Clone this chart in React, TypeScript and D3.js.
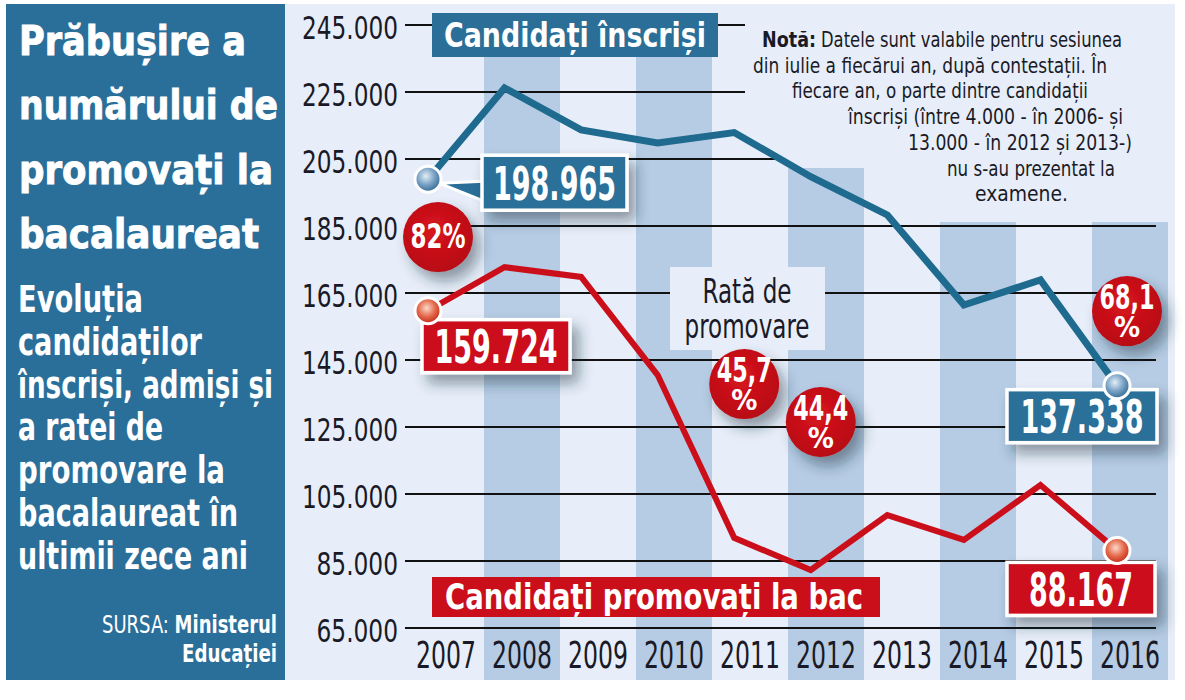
import { formatLocale, line, scaleBand, scaleLinear, scalePoint } from 'd3'

const years = ['2007', '2008', '2009', '2010', '2011', '2012', '2013', '2014', '2015', '2016']
const enrolled = [198965, 226200, 213700, 209800, 212900, 199700, 188300, 161400, 168900, 137338]
const promoted = [159724, 172700, 169800, 140500, 91900, 82300, 98700, 91300, 107700, 88167]
const yTicks = [65000, 85000, 105000, 125000, 145000, 165000, 185000, 205000, 225000, 245000]

// pass-rate bubbles: year they sit next to, label lines, vertical anchor in data units
const rateYears = ['2007', '2011', '2012', '2016']
const rateLabels = [['82%'], ['45,7', '%'], ['44,4', '%'], ['68,1', '%']]
const rateAnchors = [181700, 137800, 126500, 159600]

const titleLines = ['Prăbușire a', 'numărului de', 'promovați la', 'bacalaureat']
const subtitleLines = [
  'Evoluția',
  'candidaților',
  'înscriși, admiși și',
  'a ratei de',
  'promovare la',
  'bacalaureat în',
  'ultimii zece ani',
]
const noteLines = [
  'Datele sunt valabile pentru sesiunea',
  'din iulie a fiecărui an, după contestații.  În',
  'fiecare an, o parte dintre candidații',
  'înscriși (între 4.000 - în 2006-  și',
  '13.000 - în 2012 și 2013-)',
  'nu s-au prezentat la',
  'examene.',
]

const FONT = "'Liberation Sans Narrow', 'DejaVu Sans Condensed', 'Roboto', Arial, sans-serif"
const LIGHT = '#e7eef9'
const BAND = '#b6cce4'
const PANEL = '#2a6f9a'
const BLUE = '#1f6a8f'
const BOX_BLUE = '#2b6f98'
const RED = '#cb0f1a'

const ro = formatLocale({ decimal: ',', thousands: '.', grouping: [3], currency: ['', ''] })
const fmt = ro.format(',d')

const yScale = scaleLinear().domain([65000, 245000]).range([628, 25])
const xBand = scaleBand<string>().domain(years).range([408, 1168])
const xPoint = scalePoint<string>().domain(years).range([428, 1117])

const makeLine = line<number>()
  .x((_, i) => xPoint(years[i]) ?? 0)
  .y(d => yScale(d))

function tickWidth(label: string) {
  const digits = label.replace(/\D/g, '').length
  return digits * 14.5 + 9
}

export default function App() {
  const callouts = [
    { values: enrolled, index: 0, dx: 54, dy: -24, w: 145, h: 55, fill: BOX_BLUE, textW: 123, pointer: true },
    { values: promoted, index: 0, dx: -6, dy: 9, w: 148, h: 53, fill: RED, textW: 123, pointer: false },
    { values: enrolled, index: 9, dx: -110, dy: 4, w: 150, h: 53, fill: BOX_BLUE, textW: 123, pointer: false },
    { values: promoted, index: 9, dx: -110, dy: 12, w: 148, h: 53, fill: RED, textW: 104, pointer: false },
  ]

  const noteStarts = [821, 753, 792, 848, 908, 947, 975]
  const noteWidths = [301, 354, 296, 275, 224, 168, 93]

  return (
    <svg
      width={1185}
      height={700}
      style={{ position: 'absolute', left: 0, top: 0, display: 'block', background: '#fff' }}
      fontFamily={FONT}
    >
      <defs>
        <filter id="shadow" x="-30%" y="-30%" width="170%" height="180%">
          <feDropShadow dx="7" dy="9" stdDeviation="7" floodColor="#1d2b3c" floodOpacity="0.45" />
        </filter>
        <radialGradient id="bluePt" cx="42%" cy="38%" r="60%">
          <stop offset="0%" stopColor="#e4eef6" />
          <stop offset="55%" stopColor="#7aa3c6" />
          <stop offset="100%" stopColor="#3a6f98" />
        </radialGradient>
        <radialGradient id="redPt" cx="45%" cy="40%" r="60%">
          <stop offset="0%" stopColor="#fbd8c8" />
          <stop offset="55%" stopColor="#e46a4c" />
          <stop offset="100%" stopColor="#c42a1a" />
        </radialGradient>
        <radialGradient id="rateBubble" cx="45%" cy="40%" r="60%">
          <stop offset="0%" stopColor="#d8141d" />
          <stop offset="100%" stopColor="#b80c14" />
        </radialGradient>
      </defs>

      <rect x={6} y={4} width={1169} height={676} fill={LIGHT} />

      {years.map((year, i) =>
        i % 2 === 1 ? (
          <rect
            key={year}
            x={xBand(year)}
            y={14}
            width={xBand.bandwidth()}
            height={666}
            fill={BAND}
          />
        ) : null
      )}

      {yTicks.map(t => (
        <g key={t}>
          <line x1={405} x2={1156} y1={yScale(t)} y2={yScale(t)} stroke="#111" strokeWidth={2} />
          <text
            x={398}
            y={yScale(t) + 14}
            textAnchor="end"
            fontSize={32}
            fill="#1a1a26"
            textLength={tickWidth(fmt(t))}
            lengthAdjust="spacingAndGlyphs"
          >
            {fmt(t)}
          </text>
        </g>
      ))}

      {/* note backdrop, hides bands and gridlines behind the note */}
      <polygon
        points="745,4 1175,4 1175,222 890,222 890,168 776,168 776,108 745,108"
        fill={LIGHT}
      />

      {/* rate label */}
      <rect x={670} y={267} width={155} height={83} fill={LIGHT} />
      <text x={747} y={303} textAnchor="middle" fontSize={33} fill="#1a1a26" textLength={89} lengthAdjust="spacingAndGlyphs">
        Rată de
      </text>
      <text x={747} y={338} textAnchor="middle" fontSize={33} fill="#1a1a26" textLength={125} lengthAdjust="spacingAndGlyphs">
        promovare
      </text>

      {/* note */}
      <text x={762} y={47} fontSize={21} fontWeight="bold" fill="#1a1a26" textLength={54} lengthAdjust="spacingAndGlyphs">
        Notă:
      </text>
      {noteLines.map((txt, i) => (
        <text
          key={i}
          x={noteStarts[i]}
          y={47 + i * 25.7}
          fontSize={21}
          fill="#1a1a26"
          textLength={noteWidths[i]}
          lengthAdjust="spacingAndGlyphs"
        >
          {txt}
        </text>
      ))}

      {/* series lines */}
      <path d={makeLine(enrolled) ?? ''} fill="none" stroke={BLUE} strokeWidth={7} strokeLinejoin="miter" />
      <path d={makeLine(promoted) ?? ''} fill="none" stroke={RED} strokeWidth={6} strokeLinejoin="miter" />

      {/* series titles */}
      <rect x={432} y={13} width={286} height={44} fill={BOX_BLUE} />
      <text x={575} y={47} textAnchor="middle" fontSize={34} fontWeight="bold" fill="#fff" textLength={262} lengthAdjust="spacingAndGlyphs">
        Candidați înscriși
      </text>
      <rect x={432} y={577} width={448} height={40} fill={RED} />
      <text x={654} y={609} textAnchor="middle" fontSize={36} fontWeight="bold" fill="#fff" textLength={418} lengthAdjust="spacingAndGlyphs">
        Candidați promovați la bac
      </text>

      {/* value callouts */}
      {callouts.map((c, k) => {
        const px = xPoint(years[c.index]) ?? 0
        const py = yScale(c.values[c.index])
        const bx = px + c.dx
        const by = py + c.dy
        return (
          <g key={k}>
            {c.pointer && (
              <polygon
                points={`${px + 11},${py + 4} ${bx + 2},${by + 26} ${bx + 2},${by + 46}`}
                fill={c.fill}
                stroke="#fff"
                strokeWidth={3}
                strokeLinejoin="round"
              />
            )}
            <rect
              x={bx}
              y={by}
              width={c.w}
              height={c.h}
              fill={c.fill}
              stroke="#fff"
              strokeWidth={3.5}
              filter="url(#shadow)"
            />
            <text
              x={bx + c.w / 2}
              y={by + c.h / 2 + 17}
              textAnchor="middle"
              fontSize={47}
              fontWeight="bold"
              fill="#fff"
              textLength={c.textW}
              lengthAdjust="spacingAndGlyphs"
            >
              {fmt(c.values[c.index])}
            </text>
          </g>
        )
      })}

      {/* end points */}
      {[0, years.length - 1].map(i => (
        <g key={i}>
          <circle cx={xPoint(years[i])} cy={yScale(enrolled[i])} r={13} fill="url(#bluePt)" stroke="#fff" strokeWidth={3} />
          <circle cx={xPoint(years[i])} cy={yScale(promoted[i])} r={13} fill="url(#redPt)" stroke="#fff" strokeWidth={3} />
        </g>
      ))}

      {/* pass-rate bubbles */}
      {rateYears.map((year, i) => {
        const cx = (xPoint(year) ?? 0) + 10
        const cy = yScale(rateAnchors[i])
        const lines = rateLabels[i]
        return (
          <g key={year}>
            <circle cx={cx} cy={cy} r={35} fill="url(#rateBubble)" filter="url(#shadow)" />
            {lines.length === 1 ? (
              <text x={cx} y={cy + 11} textAnchor="middle" fontSize={34} fontWeight="bold" fill="#fff" textLength={55} lengthAdjust="spacingAndGlyphs">
                {lines[0]}
              </text>
            ) : (
              <>
                <text x={cx} y={cy - 2} textAnchor="middle" fontSize={34} fontWeight="bold" fill="#fff" textLength={55} lengthAdjust="spacingAndGlyphs">
                  {lines[0]}
                </text>
                <text x={cx} y={cy + 26} textAnchor="middle" fontSize={29} fontWeight="bold" fill="#fff">
                  {lines[1]}
                </text>
              </>
            )}
          </g>
        )
      })}

      {/* year labels */}
      {years.map(year => (
        <text
          key={year}
          x={(xBand(year) ?? 0) + xBand.bandwidth() / 2}
          y={668}
          textAnchor="middle"
          fontSize={38}
          fill="#1a1a26"
          textLength={60}
          lengthAdjust="spacingAndGlyphs"
        >
          {year}
        </text>
      ))}

      {/* left panel */}
      <rect x={6} y={4} width={279} height={676} fill={PANEL} />
      {titleLines.map((txt, i) => {
        const widths = [227, 259, 254, 240]
        return (
          <text
            key={txt}
            x={19}
            y={55 + i * 64.3}
            fontSize={41}
            fontWeight="bold"
            fill="#fff"
            stroke="#fff"
            strokeWidth={0.9}
            textLength={widths[i]}
            lengthAdjust="spacingAndGlyphs"
          >
            {txt}
          </text>
        )
      })}
      {subtitleLines.map((txt, i) => {
        const widths = [125, 184, 255, 145, 207, 220, 230]
        return (
          <text
            key={txt}
            x={18}
            y={312 + i * 42.8}
            fontSize={37}
            fontWeight="bold"
            fill="#fff"
            textLength={widths[i]}
            lengthAdjust="spacingAndGlyphs"
          >
            {txt}
          </text>
        )
      })}
      <text x={277} y={633} textAnchor="end" fontSize={25} fill="#fff" textLength={175} lengthAdjust="spacingAndGlyphs">
        <tspan>SURSA: </tspan>
        <tspan fontWeight="bold">Ministerul</tspan>
      </text>
      <text x={277} y={662} textAnchor="end" fontSize={25} fontWeight="bold" fill="#fff" textLength={95} lengthAdjust="spacingAndGlyphs">
        Educației
      </text>
    </svg>
  )
}
